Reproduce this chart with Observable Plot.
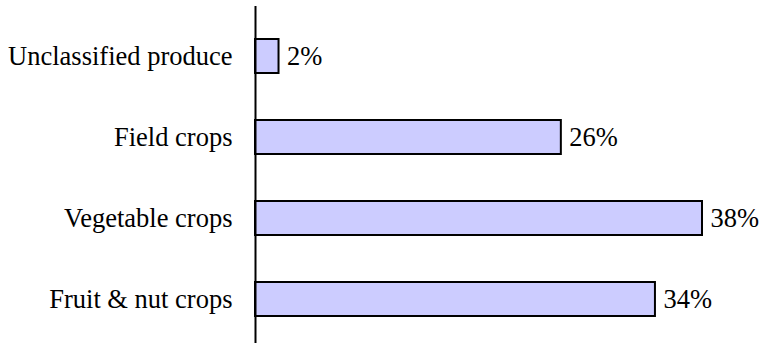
<!DOCTYPE html>
<html>
<head>
<meta charset="utf-8">
<script src="https://cdn.jsdelivr.net/npm/d3@7"></script>
<script src="https://cdn.jsdelivr.net/npm/@observablehq/plot@0.6"></script>
<style>
  body { margin: 0; background: #fff; }
  #chart svg { display: block; }
</style>
</head>
<body>
<div id="chart"></div>
<script>
// Share of farm output by crop group (percent)
const categories = ["Unclassified produce", "Field crops", "Vegetable crops", "Fruit & nut crops"];
const shares = [2, 26, 38, 34];
const valueLabels = ["2%", "26%", "38%", "34%"];

const rows = categories.map((c, i) => ({category: c, share: shares[i], label: valueLabels[i]}));

const chart = Plot.plot({
  width: 763,
  height: 345,
  marginLeft: 255,
  marginRight: 61,
  marginTop: 6,
  marginBottom: 2,
  style: {fontFamily: "'Liberation Serif', 'Times New Roman', serif", fontSize: "26.5px", color: "#000", background: "#fff"},
  x: {domain: [0, 38], axis: null},
  y: {domain: categories, paddingInner: 0.585, paddingOuter: 0.293, insetTop: 8, insetBottom: 1.5, label: null, tickSize: 0, tickPadding: 23},
  marks: [
    Plot.barX(rows, {y: "category", x: "share", fill: "#ccccff", stroke: "#000", strokeWidth: 2}),
    Plot.text(rows, {y: "category", x: "share", text: "label", textAnchor: "start", dx: 8, fontSize: 26.5, fill: "#000"}),
    Plot.ruleX([0], {stroke: "#000", strokeWidth: 2})
  ]
});
document.getElementById("chart").appendChild(chart);
</script>
</body>
</html>
